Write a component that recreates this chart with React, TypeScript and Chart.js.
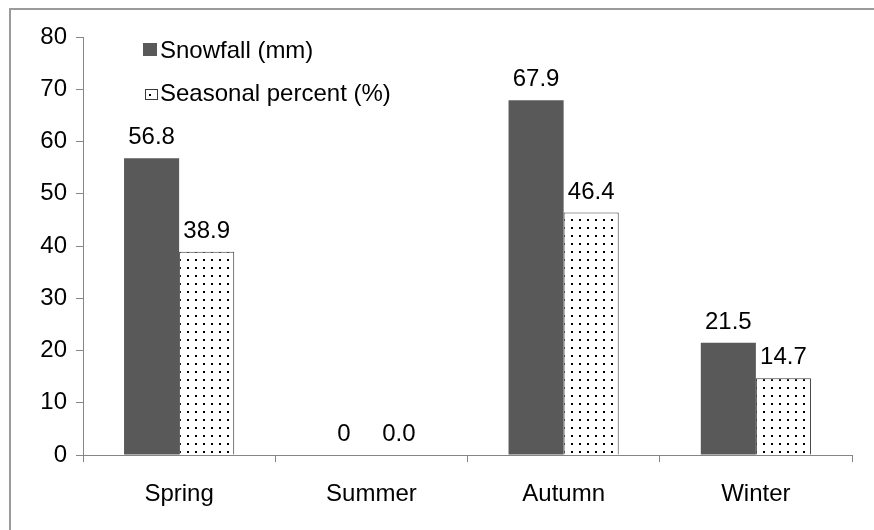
import React, { useEffect, useRef } from "react";
import { Chart, registerables } from "chart.js";

Chart.register(...registerables);

const seasons = ["Spring", "Summer", "Autumn", "Winter"];
const snowfall = [56.8, 0, 67.9, 21.5];
const seasonalPercent = [38.9, 0.0, 46.4, 14.7];
const seriesNames = ["Snowfall (mm)", "Seasonal percent (%)"];
const yTicks = { min: 0, max: 80, step: 10 };

const FONT = "'Liberation Sans', Arial, sans-serif";
const FONT_SIZE = 24;
const DARK = "#595959";
const AXIS = "#868686";

function makeDots(): CanvasPattern | string {
  const tile = document.createElement("canvas");
  tile.width = 8;
  tile.height = 8;
  const c = tile.getContext("2d");
  if (!c) return "#fff";
  c.fillStyle = "#ffffff";
  c.fillRect(0, 0, 8, 8);
  c.fillStyle = "#000000";
  c.fillRect(3, 3, 2, 2);
  return c.createPattern(tile, "repeat") || "#fff";
}

export default function App() {
  const ref = useRef<HTMLCanvasElement>(null);

  useEffect(() => {
    if (!ref.current) return;
    const dots = makeDots();

    // outer frame of the chart object
    const framePlugin = {
      id: "frame",
      beforeDraw(chart: Chart) {
        const c = chart.ctx;
        c.save();
        c.strokeStyle = "#9a9a9a";
        c.lineWidth = 2;
        c.beginPath();
        c.moveTo(10, 540);
        c.lineTo(10, 9);
        c.lineTo(880, 9);
        c.stroke();
        c.restore();
      },
    };

    // value labels above each bar
    const labelPlugin = {
      id: "valueLabels",
      afterDatasetsDraw(chart: Chart) {
        const c = chart.ctx;
        c.save();
        c.font = `${FONT_SIZE}px ${FONT}`;
        c.fillStyle = "#000";
        c.textAlign = "center";
        c.textBaseline = "alphabetic";
        chart.data.datasets.forEach((ds, di) => {
          const meta = chart.getDatasetMeta(di);
          meta.data.forEach((el: any, i) => {
            const v = ds.data[i] as number;
            const txt = di === 0 ? String(v) : v.toFixed(1);
            c.fillText(txt, el.x, el.y - 14);
          });
        });
        c.restore();
      },
    };

    // legend drawn inside the plot area
    const legendPlugin = {
      id: "innerLegend",
      afterDraw(chart: Chart) {
        const c = chart.ctx;
        c.save();
        c.fillStyle = DARK;
        c.fillRect(143, 43, 14, 13);
        c.fillStyle = "#fff";
        c.fillRect(145, 90, 12, 10);
        c.fillStyle = "#000";
        c.fillRect(149, 94, 2, 2);
        c.strokeStyle = "#3a3a3a";
        c.lineWidth = 1;
        c.strokeRect(145.5, 89.5, 12, 10);
        c.font = `${FONT_SIZE}px ${FONT}`;
        c.fillStyle = "#000";
        c.textAlign = "left";
        c.textBaseline = "alphabetic";
        c.fillText(seriesNames[0], 160, 58);
        c.fillText(seriesNames[1], 160, 101);
        c.restore();
      },
    };

    const chart = new Chart(ref.current, {
      type: "bar",
      data: {
        labels: seasons,
        datasets: [
          {
            label: seriesNames[0],
            data: snowfall,
            backgroundColor: DARK,
            borderWidth: 0,
          },
          {
            label: seriesNames[1],
            data: seasonalPercent,
            backgroundColor: dots as any,
            borderColor: "#3a3a3a",
            borderWidth: 1,
          },
        ],
      },
      options: {
        responsive: false,
        animation: false,
        layout: { padding: { top: 37, right: 22, left: 0, bottom: 0 } },
        plugins: {
          legend: { display: false },
          tooltip: { enabled: false },
        },
        datasets: {
          bar: { barPercentage: 1, categoryPercentage: 0.573 },
        },
        scales: {
          x: {
            grid: {
              display: true,
              drawOnChartArea: false,
              drawTicks: true,
              tickLength: 7,
              color: AXIS,
              offset: true,
            },
            border: { color: AXIS, width: 1 },
            ticks: {
              color: "#000",
              font: { family: FONT, size: FONT_SIZE },
              padding: 18,
            },
            afterFit(s: any) {
              s.height = 75;
            },
          },
          y: {
            min: yTicks.min,
            max: yTicks.max,
            ticks: {
              stepSize: yTicks.step,
              color: "#000",
              font: { family: FONT, size: FONT_SIZE },
              padding: 9,
            },
            grid: {
              drawOnChartArea: false,
              drawTicks: true,
              tickLength: 7,
              color: AXIS,
            },
            border: { color: AXIS, width: 1 },
            afterFit(s: any) {
              s.width = 83;
            },
          },
        },
      },
      plugins: [framePlugin, labelPlugin, legendPlugin],
    });

    return () => chart.destroy();
  }, []);

  return (
    <div style={{ position: "fixed", left: 0, top: 0, width: 874, height: 530, background: "#fff" }}>
      <canvas ref={ref} width={874} height={530} />
    </div>
  );
}
